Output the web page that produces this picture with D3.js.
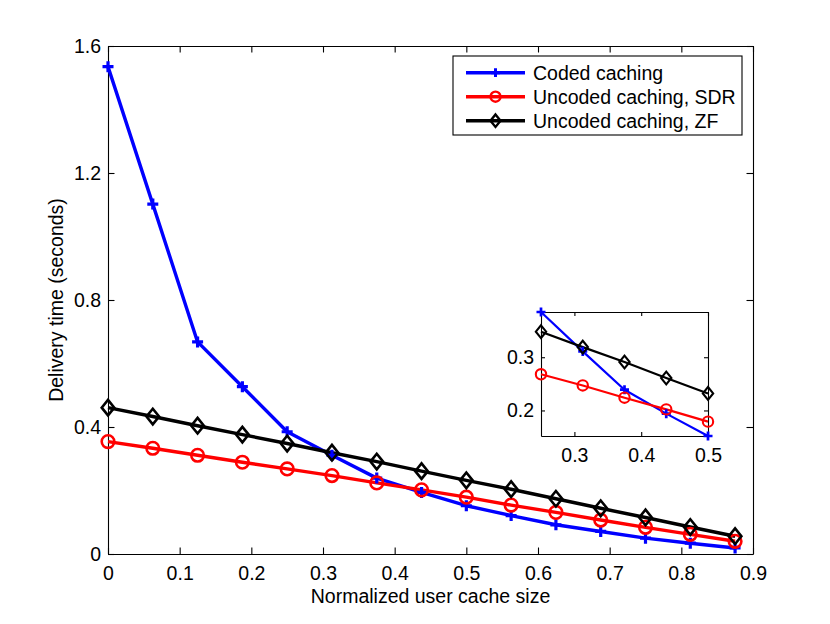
<!DOCTYPE html>
<html>
<head>
<meta charset="utf-8">
<script src="https://cdn.jsdelivr.net/npm/d3@7"></script>
<style>
  body { margin: 0; background: #fff; }
  svg { display: block; }
  text { font-family: "Liberation Sans", Arial, Helvetica, sans-serif; fill: #000; }
</style>
</head>
<body>
<svg id="chart" width="830" height="624"></svg>
<script>
// ---- data ----
const cacheSize = [0, 0.0625, 0.125, 0.1875, 0.25, 0.3125, 0.375, 0.4375, 0.5,
                   0.5625, 0.625, 0.6875, 0.75, 0.8125, 0.875];
const codedCaching = [1.535, 1.102, 0.668, 0.527, 0.385, 0.311, 0.239, 0.194, 0.152,
                      0.121, 0.092, 0.071, 0.050, 0.034, 0.019];
const uncodedSDR   = [0.354, 0.333, 0.311, 0.289, 0.268, 0.247, 0.224, 0.202, 0.179,
                      0.154, 0.131, 0.107, 0.084, 0.062, 0.040];
const uncodedZF    = [0.461, 0.433, 0.404, 0.376, 0.348, 0.319, 0.291, 0.261, 0.232,
                      0.204, 0.174, 0.144, 0.115, 0.085, 0.056];

const seriesNames  = ["Coded caching", "Uncoded caching, SDR", "Uncoded caching, ZF"];
const seriesColors = ["#0000ff", "#ff0000", "#000000"];
const seriesMarks  = ["plus", "circle", "diamond"];

const xTicks = [0, 0.1, 0.2, 0.3, 0.4, 0.5, 0.6, 0.7, 0.8, 0.9];
const yTicks = [0, 0.4, 0.8, 1.2, 1.6];
const insetXTicks = [0.3, 0.4, 0.5];
const insetYTicks = [0.2, 0.3];
const insetRange  = [0.25, 0.5];

const xLabel = "Normalized user cache size";
const yLabel = "Delivery time (seconds)";

// ---- setup ----
const svg = d3.select("#chart");
const FONT = 19.5;
const main = { left: 108, right: 753, top: 46, bottom: 554 };
const inset = { left: 541, right: 708, top: 312, bottom: 436 };

const allSeries = [codedCaching, uncodedSDR, uncodedZF].map((vals, i) => ({
  name: seriesNames[i],
  color: seriesColors[i],
  mark: seriesMarks[i],
  points: cacheSize.map((x, j) => ({ x, y: vals[j] }))
}));

// marker drawing: MATLAB-like hollow markers
function drawMarker(sel, mark, color, s, sw) {
  if (mark === "circle") {
    sel.append("circle").attr("r", 6.3 * s)
      .attr("fill", "none").attr("stroke", color).attr("stroke-width", sw);
  } else if (mark === "plus") {
    const a = 5.5 * s;
    sel.append("path").attr("d", `M${-a},0H${a}M0,${-a}V${a}`)
      .attr("fill", "none").attr("stroke", color).attr("stroke-width", sw + 0.6);
  } else {
    const w = 6.3 * s, h = 7.8 * s;
    sel.append("path").attr("d", `M0,${-h}L${w},0L0,${h}L${-w},0Z`)
      .attr("fill", "none").attr("stroke", color).attr("stroke-width", sw);
  }
}

function drawAxesBox(g, x, y, box, xt, yt, tick) {
  const fmt = d => String(d);
  g.append("g").attr("transform", `translate(0,${box.bottom})`)
    .call(d3.axisBottom(x).tickValues(xt).tickFormat(fmt)
      .tickSizeInner(-tick).tickSizeOuter(0).tickPadding(12));
  g.append("g").attr("transform", `translate(0,${box.top})`)
    .call(d3.axisTop(x).tickValues(xt).tickFormat("")
      .tickSizeInner(-tick).tickSizeOuter(0));
  g.append("g").attr("transform", `translate(${box.left},0)`)
    .call(d3.axisLeft(y).tickValues(yt).tickFormat(fmt)
      .tickSizeInner(-tick).tickSizeOuter(0).tickPadding(7));
  g.append("g").attr("transform", `translate(${box.right},0)`)
    .call(d3.axisRight(y).tickValues(yt).tickFormat("")
      .tickSizeInner(-tick).tickSizeOuter(0));
  g.selectAll(".domain, .tick line").attr("stroke", "#000").attr("stroke-width", 1.1);
  g.selectAll(".tick text").attr("font-size", FONT)
    .style("font-family", '"Liberation Sans", Arial, Helvetica, sans-serif');
}

function drawSeries(g, x, y, series, lw, s, sw) {
  const line = d3.line().x(d => x(d.x)).y(d => y(d.y));
  series.forEach(sr => {
    g.append("path").datum(sr.points)
      .attr("d", line).attr("fill", "none")
      .attr("stroke", sr.color).attr("stroke-width", lw)
      .attr("stroke-linejoin", "round");
  });
  series.forEach(sr => {
    sr.points.forEach(p => {
      const m = g.append("g").attr("transform", `translate(${x(p.x)},${y(p.y)})`);
      drawMarker(m, sr.mark, sr.color, s, sw);
    });
  });
}

// ==================================================
// main axes
// ==================================================
const x = d3.scaleLinear().domain([0, 0.9]).range([main.left, main.right]);
const y = d3.scaleLinear().domain([0, 1.6]).range([main.bottom, main.top]);

const gMain = svg.append("g");
drawAxesBox(gMain, x, y, main, xTicks, yTicks, 6.5);
drawSeries(gMain, x, y, allSeries, 3.4, 1, 2.6);

svg.append("text")
  .attr("x", (main.left + main.right) / 2).attr("y", 603)
  .attr("text-anchor", "middle").attr("font-size", FONT)
  .text(xLabel);

svg.append("text")
  .attr("transform", `translate(62.5,${(main.top + main.bottom) / 2}) rotate(-90)`)
  .attr("text-anchor", "middle").attr("font-size", FONT)
  .text(yLabel);

// ==================================================
// legend
// ==================================================
const legend = svg.append("g");
legend.append("rect")
  .attr("x", 453).attr("y", 56).attr("width", 289).attr("height", 79)
  .attr("fill", "#fff").attr("stroke", "#000").attr("stroke-width", 1.1);

allSeries.forEach((sr, i) => {
  const ly = 72.7 + i * 24;
  legend.append("line")
    .attr("x1", 466).attr("x2", 525).attr("y1", ly).attr("y2", ly)
    .attr("stroke", sr.color).attr("stroke-width", 3.4);
  const m = legend.append("g").attr("transform", `translate(495.5,${ly})`);
  drawMarker(m, sr.mark, sr.color, 0.8, 2.4);
  legend.append("text")
    .attr("x", 533).attr("y", ly).attr("dy", "0.35em")
    .attr("font-size", FONT)
    .text(sr.name);
});

// ==================================================
// inset (zoom on 0.25 .. 0.5, tight limits)
// ==================================================
const insetSeries = allSeries.map(sr => ({
  ...sr,
  points: sr.points.filter(p => p.x >= insetRange[0] && p.x <= insetRange[1])
}));
const insetVals = insetSeries.flatMap(sr => sr.points.map(p => p.y));

const xi = d3.scaleLinear().domain(insetRange).range([inset.left, inset.right]);
const yi = d3.scaleLinear().domain(d3.extent(insetVals)).range([inset.bottom, inset.top]);

const gInset = svg.append("g");
gInset.append("rect")
  .attr("x", inset.left).attr("y", inset.top)
  .attr("width", inset.right - inset.left).attr("height", inset.bottom - inset.top)
  .attr("fill", "#fff");
drawAxesBox(gInset, xi, yi, inset, insetXTicks, insetYTicks, 4);
drawSeries(gInset, xi, yi, insetSeries, 2.2, 0.82, 2.1);
</script>
</body>
</html>
